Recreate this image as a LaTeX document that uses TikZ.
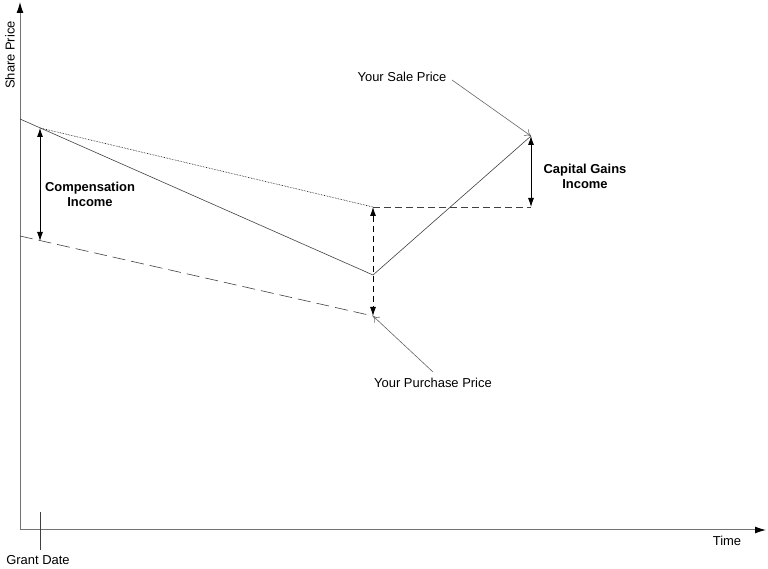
\documentclass[tikz,border=0pt]{standalone}
\usepackage{fontspec}
\setmainfont{Liberation Sans}
\usetikzlibrary{arrows.meta}
\begin{document}
\begin{tikzpicture}[>={Latex[length=9bp,width=6bp]},line join=bevel,
  every node/.style={font=\fontsize{13}{15}\selectfont},
  axis/.style={draw=black!55,line width=1bp,-{Latex[length=11bp,width=7bp,black]}},
  curve/.style={draw=black!75,line width=0.6bp},
  lead/.style={draw=black!60,line width=0.6bp,-{To[length=6bp,width=8bp]}},
  gain/.style={font=\bfseries\fontsize{13}{15}\selectfont,align=center}]
\useasboundingbox (0bp,0bp) rectangle (768bp,569bp);
%%
\coordinate (origin) at (20bp,39bp);
\coordinate (ytop) at (20bp,567bp);
\coordinate (xend) at (766bp,39bp);
\coordinate (tick_top) at (40bp,57bp);
\coordinate (tick_bot) at (40bp,19bp);
\coordinate (p_start) at (20bp,450bp);
\coordinate (p_grant) at (40bp,441bp);
\coordinate (d_start) at (20bp,333bp);
\coordinate (d_grant) at (40bp,328bp);
\coordinate (p_mid) at (373bp,362bp);
\coordinate (p_low) at (373bp,294bp);
\coordinate (d_mid) at (373bp,253bp);
\coordinate (p_sale) at (531bp,433bp);
\coordinate (p_sale_base) at (531bp,362bp);
%
\node (node_share) at (10bp,514bp) [rotate=90] {Share Price};
\node (node_time) at (727bp,28bp) {Time};
\node (node_grant) at (38bp,9bp) {Grant Date};
\node (node_comp) at (90bp,375bp) [gain] {Compensation\\Income};
\node (node_cap) at (585bp,393bp) [gain] {Capital Gains\\Income};
\node (node_sale) at (402bp,492bp) {Your Sale Price};
\node (node_buy) at (433bp,186bp) {Your Purchase Price};
%
\draw [axis] (origin) -- (ytop);
\draw [axis] (origin) -- (xend);
\draw [curve] (tick_top) -- (tick_bot);
\draw [curve] (p_start) -- (p_low) -- (p_sale);
\draw [black,line width=0.6bp,densely dotted] (p_grant) -- (p_mid);
\draw [curve,dash pattern=on 13bp off 6bp] (d_start) -- (d_mid);
\draw [curve,dash pattern=on 7bp off 4bp] (p_mid) -- (p_sale_base);
\draw [black,line width=0.8bp,<->] (p_grant) -- (d_grant);
\draw [black,line width=0.8bp,<->,dash pattern=on 6bp off 4bp] (p_mid) -- (d_mid);
\draw [black,line width=0.8bp,<->] (p_sale) -- (p_sale_base);
\draw [lead] (452bp,489bp) -- (p_sale);
\draw [lead] (433bp,197bp) -- (d_mid);
%
\end{tikzpicture}
\end{document}
